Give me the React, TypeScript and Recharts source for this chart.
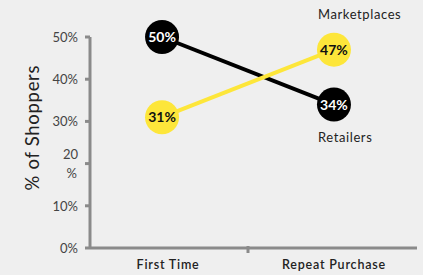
import { LineChart, Line, XAxis, YAxis, LabelList } from 'recharts'

const stages = ['First Time', 'Repeat Purchase']
const retailers = [50, 34]
const marketplaces = [31, 47]
const yTicks = [0, 10, 20, 30, 40, 50]
const xTicks = [0, 0.5, 1]

const data = stages.map((stage, i) => ({
  pos: i,
  stage,
  retailers: retailers[i],
  marketplaces: marketplaces[i],
}))

const FONT = 'Lato, "Open Sans", sans-serif'
const AXIS = '#8a8a8a'

function dotFor(fill: string, textFill: string) {
  return (props: any) => {
    const { cx, cy, value, index } = props
    return (
      <g key={`dot-${index}`}>
        <circle cx={cx} cy={cy} r={17} fill={fill} />
        <text
          x={cx}
          y={cy}
          dy={5}
          textAnchor="middle"
          fontSize={14}
          fontWeight={700}
          fontFamily={FONT}
          fill={textFill}
        >
          {value}%
        </text>
      </g>
    )
  }
}

function seriesName(name: string, above: boolean) {
  return (props: any) => {
    const { x, y, index } = props
    if (index !== stages.length - 1) return null
    return (
      <text
        x={x - 16}
        y={above ? y - 31 : y + 37}
        fontSize={13}
        fontFamily={FONT}
        fill="#222"
        letterSpacing={0.6}
      >
        {name}
      </text>
    )
  }
}

function XTick(props: any) {
  const { x, y, payload } = props
  const v = payload.value
  if (!Number.isInteger(v)) {
    return <line x1={x} x2={x} y1={y - 8} y2={y - 1} stroke={AXIS} strokeWidth={3} />
  }
  return (
    <text
      x={x}
      y={y + 15}
      dx={v === 0 ? 6 : 0}
      textAnchor="middle"
      fontSize={12.5}
      fontWeight={600}
      fontFamily={FONT}
      fill="#222"
      letterSpacing={0.8}
    >
      {stages[v]}
    </text>
  )
}

function YTick(props: any) {
  const { x, y, payload } = props
  if (payload.value === 20) {
    return (
      <text x={x} y={y} textAnchor="end" fontSize={13} fontFamily={FONT} fill="#444">
        <tspan x={x} dy={-5}>20</tspan>
        <tspan x={x - 1} dy={19}>%</tspan>
      </text>
    )
  }
  return (
    <text x={x} y={y} dy={5} textAnchor="end" fontSize={13} fontFamily={FONT} fill="#444">
      {payload.value}%
    </text>
  )
}

export default function App() {
  return (
    <div
      style={{
        position: 'absolute',
        left: 0,
        top: 0,
        width: 423,
        height: 275,
        background: '#efefef',
      }}
    >
      <LineChart
        width={423}
        height={275}
        data={data}
        margin={{ top: 37, right: 6, bottom: 0, left: 0 }}
      >
        <XAxis
          dataKey="pos"
          type="number"
          domain={[-0.419, 1.483]}
          ticks={xTicks}
          interval={0}
          height={27}
          axisLine={{ stroke: AXIS, strokeWidth: 3 }}
          tickLine={false}
          tick={<XTick />}
          tickMargin={0}
        />
        <YAxis
          domain={[0, 50]}
          ticks={yTicks}
          width={90}
          axisLine={{ stroke: AXIS, strokeWidth: 3 }}
          tickLine={{ stroke: AXIS, strokeWidth: 3 }}
          tickSize={5}
          tick={<YTick />}
          tickMargin={7}
          label={{
            value: '% of Shoppers',
            angle: -90,
            position: 'insideLeft',
            offset: 32,
            dy: 48,
            style: { fontSize: 18.5, fontFamily: FONT, fill: '#222', letterSpacing: 0.7 },
          }}
        />
        <Line
          dataKey="retailers"
          stroke="#000"
          strokeWidth={4}
          dot={dotFor('#000', '#fff')}
          activeDot={false}
          isAnimationActive={false}
        >
          <LabelList dataKey="retailers" content={seriesName('Retailers', false)} />
        </Line>
        <Line
          dataKey="marketplaces"
          stroke="#fde63a"
          strokeWidth={4}
          dot={dotFor('#fde63a', '#111')}
          activeDot={false}
          isAnimationActive={false}
        >
          <LabelList dataKey="marketplaces" content={seriesName('Marketplaces', true)} />
        </Line>
      </LineChart>
    </div>
  )
}
